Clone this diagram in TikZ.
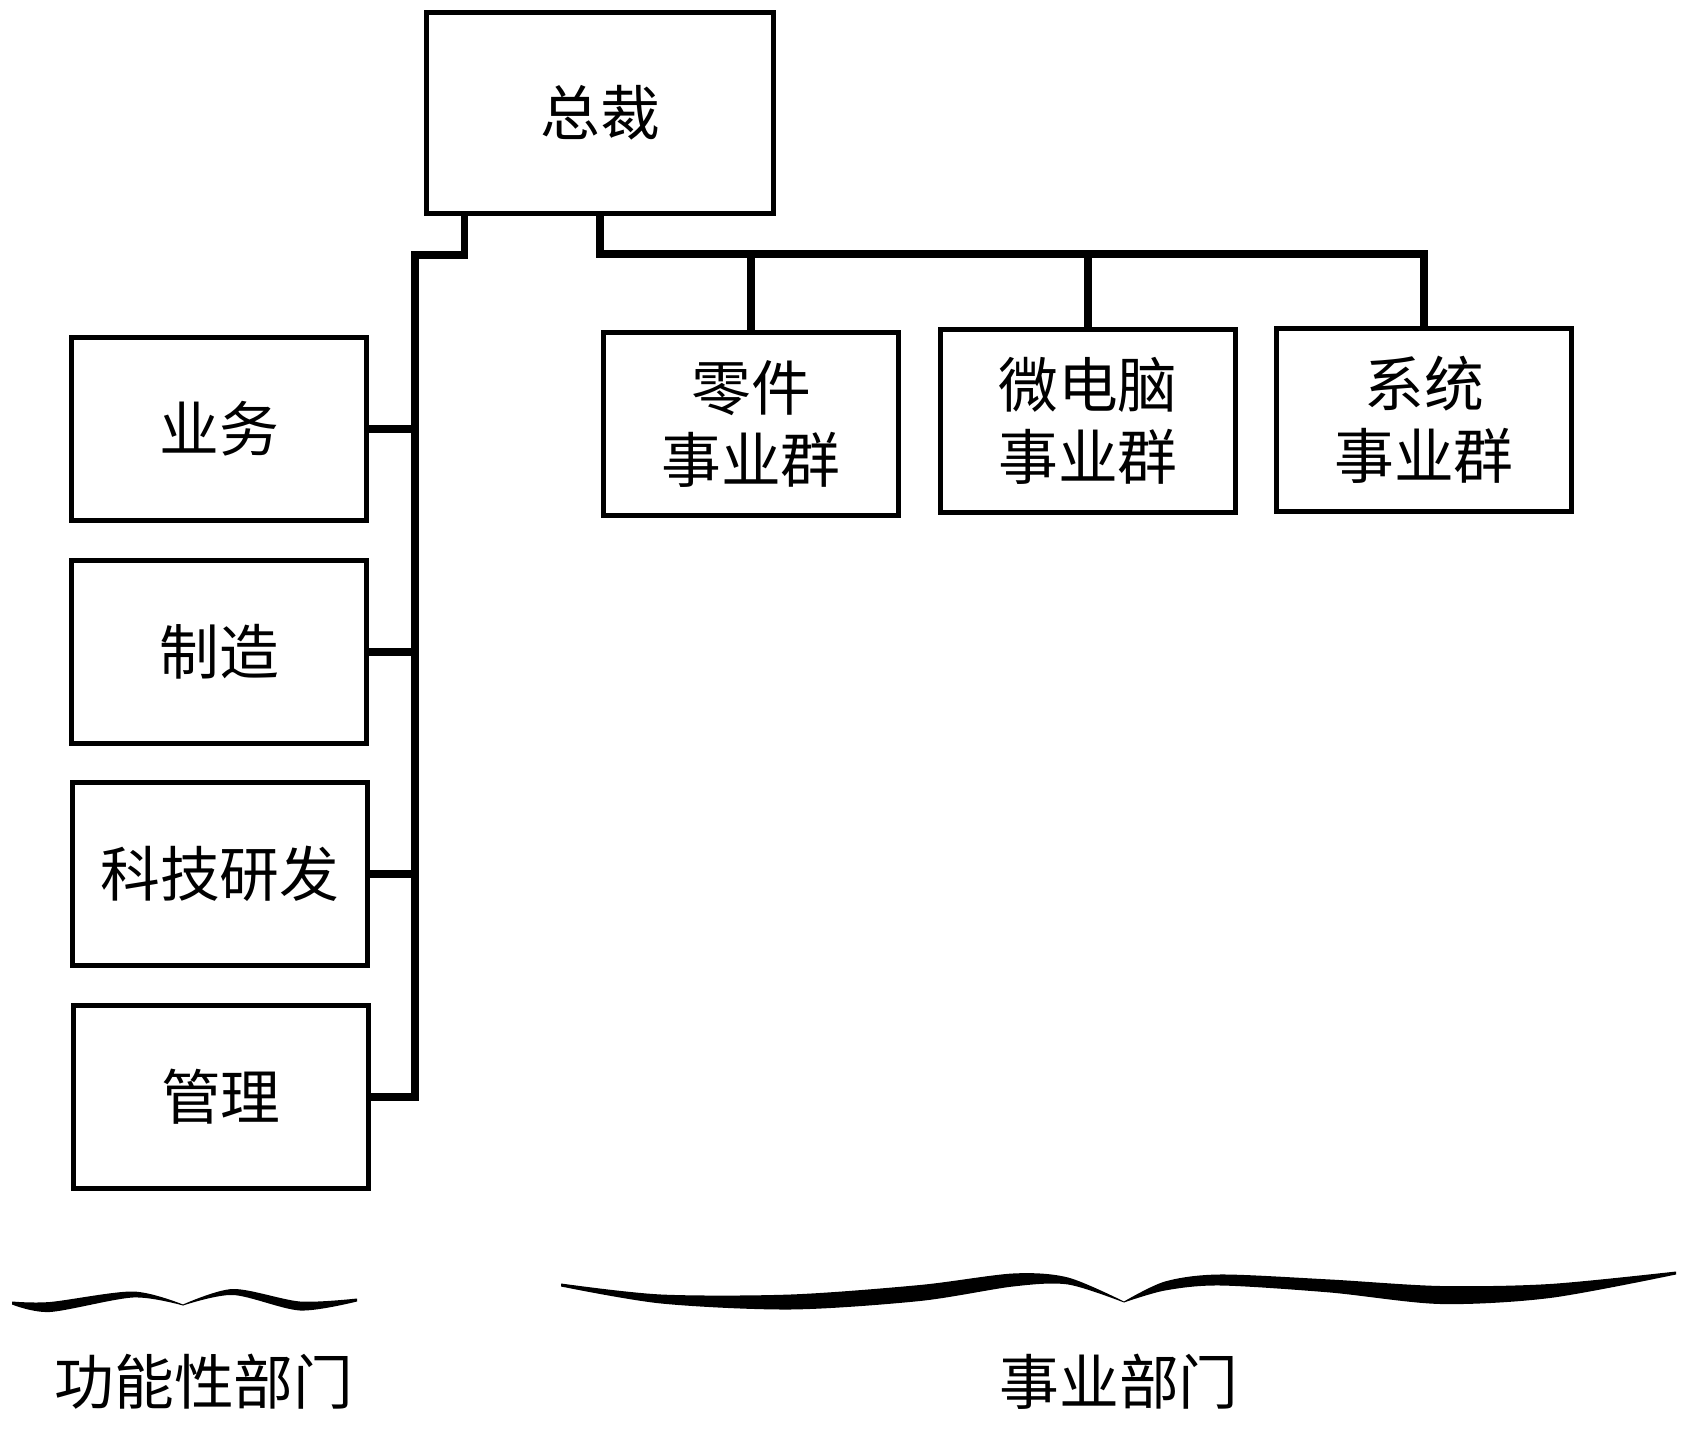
\documentclass[tikz,border=0pt]{standalone}
\usepackage{fontspec}
\newfontfamily\cjk{Noto Sans CJK SC}
\begin{document}
\begin{tikzpicture}[x=0.01cm,y=-0.01cm]
  \tikzstyle{every node}+=[inner sep=0pt]
  \tikzstyle{unit}=[draw=black, line width=1.4pt, minimum width=2.95cm, minimum height=1.83cm, align=center, font=\cjk\fontsize{17}{20.5}\selectfont]
  \tikzstyle{wire}=[black, line width=2pt]
  \tikzstyle{groupname}=[font=\cjk\fontsize{17}{20.5}\selectfont]
  \useasboundingbox (0,0) rectangle (1684,1434);
  % president
  \node [unit, minimum width=3.46cm, minimum height=2cm] (ceo) at (600,113) {总裁};
  % functional departments
  \node [unit] (sales) at (219,429) {业务};
  \node [unit] (make) at (219,652) {制造};
  \node [unit] (rnd) at (220,874) {科技研发};
  \node [unit] (admin) at (221,1097) {管理};
  % business groups
  \node [unit] (parts) at (751,424) {零件\\事业群};
  \node [unit] (micro) at (1088,421) {微电脑\\事业群};
  \node [unit] (sys) at (1424,420) {系统\\事业群};
  \coordinate (trunk) at (415,255);
  \coordinate (bus) at (0,254);
  \draw [wire] ([xshift=0.4cm]ceo.south west) |- (trunk) -- (trunk |- admin.east) -- (admin.east);
  \draw [wire] (sales.east) -- (sales.east -| trunk);
  \draw [wire] (make.east) -- (make.east -| trunk);
  \draw [wire] (rnd.east) -- (rnd.east -| trunk);
  \draw [wire] (ceo.south) |- (bus -| sys.north) -- (sys.north);
  \draw [wire] (bus -| parts.north) -- (parts.north);
  \draw [wire] (bus -| micro.north) -- (micro.north);
  % braces
  \fill [black] plot[smooth] coordinates {(12,1301.5) (50,1302) (133,1291.5) (183,1304.5)}
    -- plot[smooth] coordinates {(183,1305.5) (133,1297.5) (50,1312) (12,1304.5)} -- cycle;
  \fill [black] plot[smooth] coordinates {(183,1304.5) (233,1289) (300,1301.5) (357,1298.5)}
    -- plot[smooth] coordinates {(357,1301.5) (300,1310.5) (233,1295) (183,1305.5)} -- cycle;
  \fill [black] plot[smooth] coordinates {(561,1283.5) (661,1294.5) (791,1294.5) (920,1285) (1013,1273.5) (1068,1277.5) (1124,1301.5)}
    -- plot[smooth] coordinates {(1124,1302.5) (1068,1284.5) (1013,1286.5) (920,1301) (791,1309.5) (661,1303.5) (561,1286.5)} -- cycle;
  \fill [black] plot[smooth] coordinates {(1124,1301.5) (1165,1281.5) (1220,1274.5) (1330,1279.5) (1440,1286) (1550,1284) (1676,1271.5)}
    -- plot[smooth] coordinates {(1676,1274.5) (1550,1298) (1440,1304) (1330,1292.5) (1220,1285.5) (1165,1290.5) (1124,1302.5)} -- cycle;
  \node [groupname] (funcname) at (204,1382) {功能性部门};
  \node [groupname] (bizname) at (1119,1382) {事业部门};
\end{tikzpicture}
\end{document}
